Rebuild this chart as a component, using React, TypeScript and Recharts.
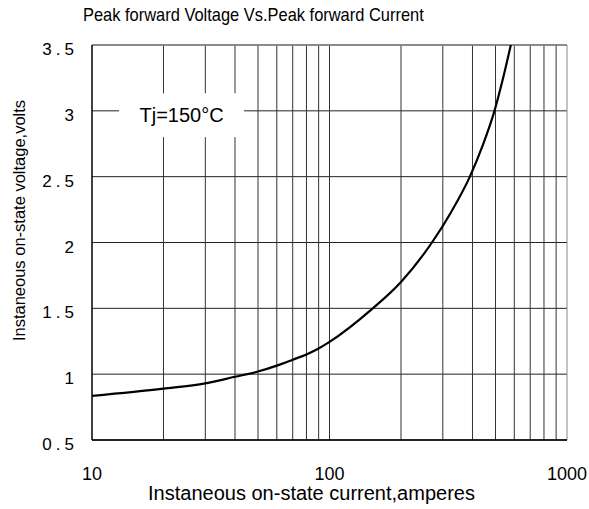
import { LineChart, Line, XAxis, YAxis, CartesianGrid, ReferenceArea, ReferenceLine, Label } from 'recharts';

// values (current in A, voltage in V)
const currents = [10, 20, 30, 40, 50, 60, 70, 80, 90, 100, 150, 200, 270, 325, 390, 440, 495, 535, 580];
const voltages = [0.835, 0.89, 0.93, 0.98, 1.02, 1.065, 1.11, 1.15, 1.195, 1.245, 1.49, 1.7, 2.0, 2.23, 2.5, 2.73, 3.0, 3.23, 3.5];

const xTicks = [10, 100, 1000];
const yTicks = [0.5, 1, 1.5, 2, 2.5, 3, 3.5];
const gridCurrents = [20, 30, 40, 50, 60, 70, 80, 90, 100, 200, 300, 400, 500, 600, 700, 800, 900, 1000];

const title = 'Peak forward Voltage Vs.Peak forward Current';
const xLabel = 'Instaneous on-state current,amperes';
const yLabel = 'Instaneous on-state voltage,volts';
const tjLabel = 'Tj=150°C';
// white box behind the temperature note, in data units
const tjCurrent = [13, 43.7];
const tjVoltage = [2.8, 3.133];

const data = currents.map((current, i) => ({ current, voltage: voltages[i] }));

const FONT = '"Liberation Sans", Arial, sans-serif';
const Y_MIN = yTicks[0];
const Y_MAX = yTicks[yTicks.length - 1];

export default function App() {
  return (
    <div style={{ position: 'absolute', left: 0, top: 0, width: 589, height: 509, background: '#fff', fontFamily: FONT }}>
      <div
        style={{
          position: 'absolute',
          left: 83,
          top: 4,
          fontSize: 19,
          lineHeight: '22px',
          whiteSpace: 'nowrap',
          color: '#000',
          transform: 'scaleX(0.865)',
          transformOrigin: 'left top',
        }}
      >
        {title}
      </div>
      <LineChart width={589} height={509} data={data} margin={{ top: 45, right: 22, bottom: 0, left: 0 }}>
        <CartesianGrid stroke="#222" vertical={false} />
        {gridCurrents.map((v) => {
          const stroke = v === 1000 ? '#888' : '#333';
          // lines under the note box are split so the box stays clear
          if (v > tjCurrent[0] && v < tjCurrent[1]) {
            return [
              <ReferenceLine
                key={`${v}a`}
                segment={[{ x: v, y: Y_MIN }, { x: v, y: tjVoltage[0] }]}
                stroke={stroke}
              />,
              <ReferenceLine
                key={`${v}b`}
                segment={[{ x: v, y: tjVoltage[1] }, { x: v, y: Y_MAX }]}
                stroke={stroke}
              />,
            ];
          }
          return <ReferenceLine key={v} x={v} stroke={stroke} strokeWidth={1} />;
        })}
        <ReferenceLine y={Y_MAX} stroke="#888" strokeWidth={1.5} />
        <XAxis
          dataKey="current"
          type="number"
          scale="log"
          domain={[10, 1000]}
          ticks={xTicks}
          interval={0}
          allowDataOverflow
          tickLine={false}
          tickSize={0}
          tickMargin={27}
          height={69}
          axisLine={{ stroke: '#000', strokeWidth: 1.5 }}
          tick={{ fontSize: 18, fill: '#000', fontFamily: FONT }}
        >
          <Label
            content={({ viewBox }: any) => (
              <text
                x={viewBox.x + viewBox.width / 2 - 18}
                y={viewBox.y + 60}
                textAnchor="middle"
                fontSize={20}
                fontFamily={FONT}
                fill="#000"
              >
                {xLabel}
              </text>
            )}
          />
        </XAxis>
        <YAxis
          type="number"
          domain={[Y_MIN, Y_MAX]}
          ticks={yTicks}
          interval={0}
          allowDataOverflow
          width={92}
          tickLine={false}
          tickSize={0}
          tickMargin={14}
          axisLine={{ stroke: '#000', strokeWidth: 1.5 }}
          tick={{ fontSize: 17, fill: '#000', fontFamily: FONT, letterSpacing: 4, dy: 4 }}
          tickFormatter={(v: number) => String(v)}
        >
          <Label
            content={({ viewBox }: any) => {
              const cx = 25;
              const cy = viewBox.y + viewBox.height / 2 - 22;
              return (
                <text
                  x={cx}
                  y={cy}
                  transform={`rotate(-90, ${cx}, ${cy})`}
                  textAnchor="middle"
                  fontSize={16.5}
                  fontFamily={FONT}
                  fill="#000"
                >
                  {yLabel}
                </text>
              );
            }}
          />
        </YAxis>
        <ReferenceArea
          x1={tjCurrent[0]}
          x2={tjCurrent[1]}
          y1={tjVoltage[0]}
          y2={tjVoltage[1]}
          fill="#fff"
          fillOpacity={1}
          stroke="none"
          label={{ value: tjLabel, position: 'center', fontSize: 20, fill: '#000', fontFamily: FONT }}
        />
        <Line
          type="monotone"
          dataKey="voltage"
          stroke="#000"
          strokeWidth={2.2}
          dot={false}
          isAnimationActive={false}
        />
      </LineChart>
    </div>
  );
}
